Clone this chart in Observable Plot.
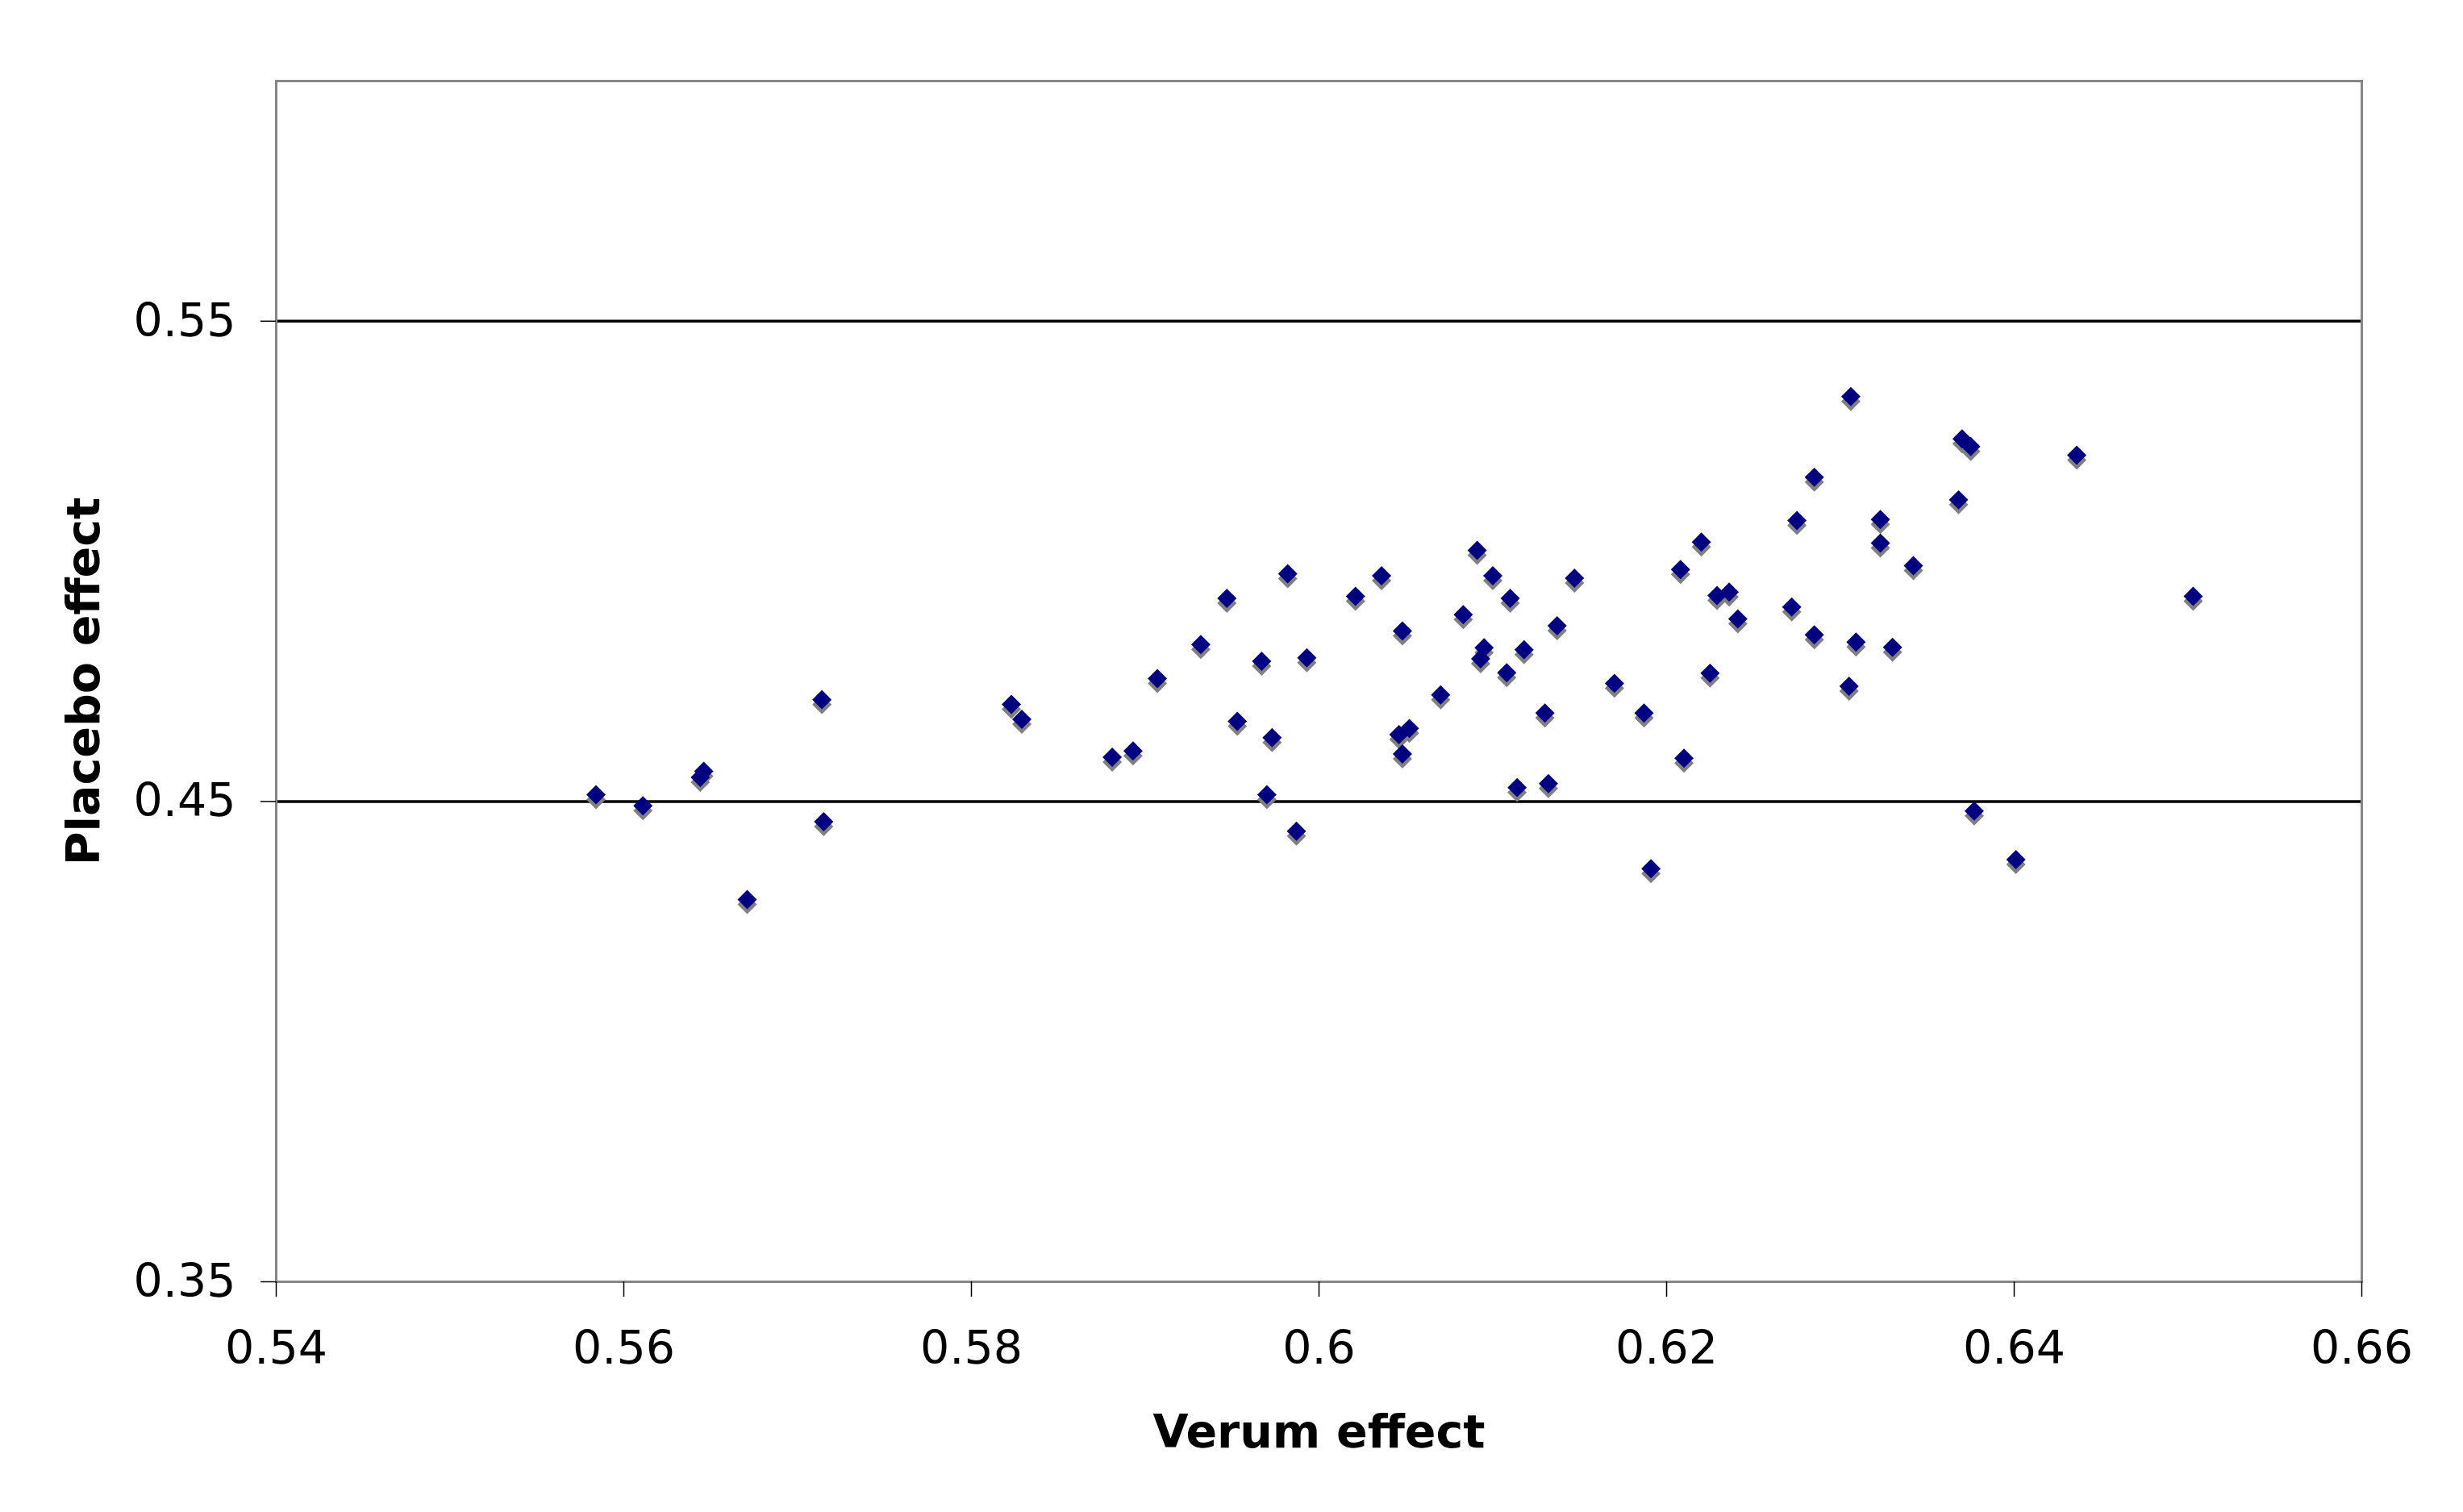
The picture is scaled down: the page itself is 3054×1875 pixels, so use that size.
<!DOCTYPE html>
<html>
<head>
<meta charset="utf-8">
<script src="https://cdn.jsdelivr.net/npm/d3@7"></script>
<script src="https://cdn.jsdelivr.net/npm/@observablehq/plot@0.6"></script>
<style>
  html, body { margin: 0; padding: 0; background: #ffffff; }
  #chart svg { display: block; }
</style>
</head>
<body>
<div id="chart"></div>
<script>
// ---- data ----
const verum = [
  0.5584, 0.5611, 0.5644, 0.5646, 0.5671, 0.5714, 0.5715, 0.5823, 0.5829, 0.5881,
  0.5893, 0.5907, 0.5932, 0.5947, 0.5953, 0.5967, 0.5973, 0.5970, 0.5982, 0.5987,
  0.5993, 0.6021, 0.6036, 0.6048, 0.6046, 0.6052, 0.6048, 0.6070, 0.6083, 0.6091,
  0.6100, 0.6110, 0.6095, 0.6093, 0.6118, 0.6108, 0.6137, 0.6147, 0.6130, 0.6114,
  0.6132, 0.6170, 0.6187, 0.6191, 0.6210, 0.6208, 0.6220, 0.6229, 0.6236, 0.6241,
  0.6225, 0.6275, 0.6285, 0.6272, 0.6285, 0.6306, 0.6323, 0.6323, 0.6342, 0.6309,
  0.6330, 0.6305, 0.6368, 0.6370, 0.6375, 0.6436, 0.6503, 0.6377, 0.6401
];
const placebo = [
  0.4514, 0.4491, 0.4550, 0.4563, 0.4296, 0.4712, 0.4458, 0.4702, 0.4671, 0.4592,
  0.4605, 0.4756, 0.4827, 0.4923, 0.4667, 0.4792, 0.4633, 0.4514, 0.4974, 0.4438,
  0.4799, 0.4927, 0.4970, 0.4855, 0.4639, 0.4652, 0.4599, 0.4722, 0.4889, 0.5023,
  0.4970, 0.4923, 0.4820, 0.4797, 0.4816, 0.4768, 0.4866, 0.4965, 0.4684, 0.4529,
  0.4537, 0.4746, 0.4684, 0.4360, 0.4590, 0.4983, 0.5040, 0.4929, 0.4936, 0.4880,
  0.4767, 0.5085, 0.5175, 0.4905, 0.4847, 0.5343, 0.5087, 0.5038, 0.4991, 0.4832,
  0.4821, 0.4740, 0.5128, 0.5255, 0.5239, 0.5221, 0.4927, 0.4480, 0.4379
];
const xTicks = [0.54, 0.56, 0.58, 0.60, 0.62, 0.64, 0.66];
const xTickLabels = ["0.54", "0.56", "0.58", "0.6", "0.62", "0.64", "0.66"];
const yTicks = [0.35, 0.45, 0.55];
const yTickLabels = ["0.35", "0.45", "0.55"];
const yGrid = [0.45, 0.55];
const xTitle = "Verum effect";
const yTitle = "Placebo effect";

const points = verum.map((v, i) => ({verum: v, placebo: placebo[i]}));
const font = "'DejaVu Sans', Verdana, sans-serif";

const chart = Plot.plot({
  width: 3054,
  height: 1875,
  marginLeft: 342,
  marginRight: 126,
  marginTop: 100,
  marginBottom: 286,
  style: {fontFamily: font, fontSize: "57px", color: "#000", background: "#fff"},
  x: {domain: [0.54, 0.66]},
  y: {domain: [0.35, 0.60]},
  marks: [
    Plot.ruleY(yGrid, {stroke: "#000", strokeWidth: 3.5}),
    Plot.frame({stroke: "#868686", strokeWidth: 3}),
    Plot.axisX({
      ticks: xTicks,
      tickFormat: (d) => xTickLabels[xTicks.findIndex((t) => Math.abs(t - d) < 1e-9)],
      tickSize: 19,
      tickPadding: 42,
      stroke: "#000",
      strokeWidth: 1.5,
      fontSize: 57,
      label: null
    }),
    Plot.axisY({
      ticks: yTicks,
      tickFormat: (d) => yTickLabels[yTicks.findIndex((t) => Math.abs(t - d) < 1e-9)],
      tickSize: 19,
      tickPadding: 31,
      stroke: "#000",
      strokeWidth: 1.5,
      fontSize: 57,
      label: null
    }),
    Plot.dot(points, {x: "verum", y: "placebo", symbol: "diamond2", r: 10.8, fill: "#808080", dy: 6}),
    Plot.dot(points, {x: "verum", y: "placebo", symbol: "diamond2", r: 10.8, fill: "#000080"}),
    Plot.text([xTitle], {
      text: (d) => d, frameAnchor: "bottom", dy: 187, lineAnchor: "middle", textAnchor: "middle",
      fontSize: 57, fontWeight: "bold", fill: "#000"
    }),
    Plot.text([yTitle], {
      text: (d) => d, frameAnchor: "left", dx: -238, rotate: -90, lineAnchor: "middle", textAnchor: "middle",
      fontSize: 57, fontWeight: "bold", fill: "#000"
    })
  ]
});
document.getElementById("chart").appendChild(chart);
</script>
</body>
</html>
